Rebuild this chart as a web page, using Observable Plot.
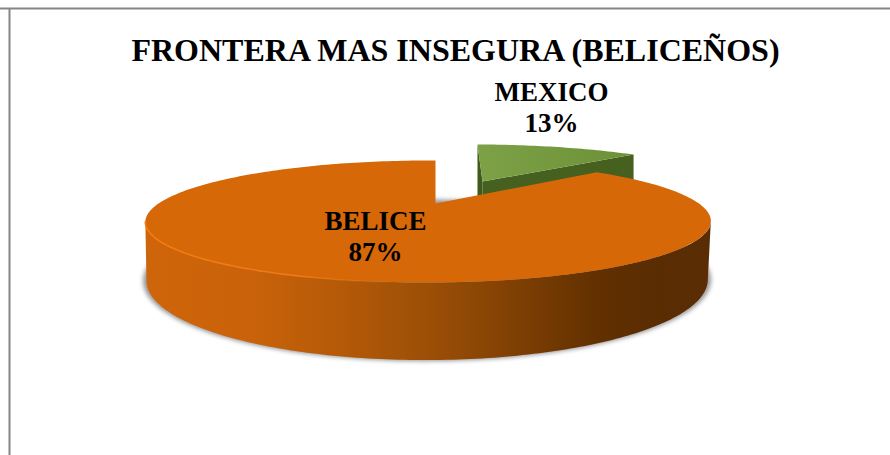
<!DOCTYPE html>
<html>
<head>
<meta charset="utf-8">
<script src="https://cdn.jsdelivr.net/npm/d3@7"></script>
<script src="https://cdn.jsdelivr.net/npm/@observablehq/plot@0.6"></script>
<style>html,body{margin:0;padding:0;background:#fff;overflow:hidden}svg{display:block}</style>
</head>
<body>
<div id="chart"></div>
<script>
const titleText = "FRONTERA MAS INSEGURA (BELICEÑOS)";
const categories = ["MEXICO", "BELICE"];
const shares = [13, 87];

// Perspective views of the pie discs (a circle through a homography)
const viewOrangeTop = {cx: 435, cy: 203, R: 270, a: 55.7, k: 0.295, m: 0.025, s: 0};
const viewOrangeBase = {cx: 434, cy: 256, R: 268, a: 73, k: 0.295, m: 0.025, s: 0};
const viewGreenTop = {cx: 482, cy: 181, R: 259, a: 48, k: 0.295, m: 0.025, s: -6.5};
const greenDrop = 70;

const project = (view, deg, r = 1) => {
  const t = deg * Math.PI / 180, u = r * Math.sin(t), v = r * Math.cos(t);
  const w = 1 + view.k * v + view.m * u;
  return {x: view.cx + (view.R * u + view.s * v) / w, y: view.cy - view.a * v / w};
};
const arc = (view, a0, a1, n = 160) => d3.range(n + 1).map(i => project(view, a0 + (a1 - a0) * i / n));

const total = d3.sum(shares);
const greenEnd = 360 * shares[0] / total;

const greenApex = project(viewGreenTop, 0, 0);
const greenFace = [greenApex, ...arc(viewGreenTop, 0, greenEnd, 40)];
const greenTip = project(viewGreenTop, greenEnd);
const greenFar = project(viewGreenTop, 0);
const down = p => ({x: p.x, y: p.y + greenDrop});
const greenWallA = [greenApex, greenTip, down(greenTip), down(greenApex)];
const greenWallB = [greenFar, greenApex, down(greenApex), down(greenFar)];

const orangeApex = project(viewOrangeTop, 0, 0);
const orangeFace = [orangeApex, ...arc(viewOrangeTop, greenEnd, 360, 240)];
const orangeWall = [...arc(viewOrangeTop, 107, 253), ...arc(viewOrangeBase, 253, 107)];
const shadow = arc({...viewOrangeBase, R: viewOrangeBase.R * 1.012, a: viewOrangeBase.a * 1.01}, 0, 360, 240);
const rim = arc(viewOrangeTop, 180, 253, 80);

const belicePoint = project(viewOrangeTop, greenEnd + (360 - greenEnd) / 2, 0.47);
const labelSpots = [
  {x: 551, y: 106},
  {x: belicePoint.x - 2, y: belicePoint.y + 4}
];
const labels = categories.map((c, i) => ({...labelSpots[i], text: `${c}\n${shares[i]}%`}));

const gradient = (id, x1, x2, stops) => () => {
  const defs = d3.create("svg:defs");
  const g = defs.append("linearGradient").attr("id", id).attr("gradientUnits", "userSpaceOnUse")
    .attr("x1", x1).attr("x2", x2).attr("y1", 0).attr("y2", 0);
  for (const [o, c, a] of stops) g.append("stop").attr("offset", o).attr("stop-color", c).attr("stop-opacity", a ?? 1);
  return defs.node();
};

const face = (pts, fill, extra = {}) => Plot.line(pts, {x: "x", y: "y", fill, stroke: "none", curve: "linear", ...extra});

const chart = Plot.plot({
  width: 890, height: 455,
  margin: 0,
  x: {domain: [0, 890], range: [0, 890], axis: null},
  y: {domain: [0, 455], range: [0, 455], axis: null},
  style: {background: "#fff"},
  marks: [
    gradient("wallGrad", 145, 711, [[0, "#CF650A"], [0.19, "#C9620A"], [0.34, "#B55A08"], [0.5, "#9C4F06"], [0.62, "#864304"], [0.79, "#633100"], [0.9, "#592C02"], [1, "#5A2D05"]]),
    gradient("greenGrad", 477, 636, [[0, "#7DA146"], [1, "#6C9036"]]),
    gradient("rimGrad", 145, 400, [[0, "#F27C12"], [0.6, "#F27C12", 0.9], [1, "#E4730C", 0]]),
    Plot.ruleY([8], {x1: 0, x2: 890, stroke: "#868686", strokeWidth: 2}),
    Plot.ruleX([9], {y1: 8, y2: 455, stroke: "#868686", strokeWidth: 2}),
    face(shadow, "#6e6e6e", {imageFilter: "blur(2px)", fillOpacity: 0.7}),
    face(greenWallA, "#46611F"),
    face(greenWallB, "#3F5A1C"),
    face(greenFace, "url(#greenGrad)"),
    face(orangeWall, "url(#wallGrad)"),
    face(orangeFace, "#D66808"),
    Plot.line(rim, {x: "x", y: "y", stroke: "url(#rimGrad)", strokeWidth: 1.6, curve: "linear"}),
    Plot.text([titleText], {
      frameAnchor: "top", dx: 10, dy: 38, text: d => d, lineAnchor: "top",
      fontFamily: "Liberation Serif", fontWeight: "bold", fontSize: 32, fill: "#000"
    }),
    Plot.text(labels, {
      x: "x", y: "y", text: "text", lineHeight: 1.15, lineAnchor: "middle",
      fontFamily: "Liberation Serif", fontWeight: "bold", fontSize: 27, fill: "#000"
    })
  ]
});
document.getElementById("chart").append(chart);
</script>
</body>
</html>
